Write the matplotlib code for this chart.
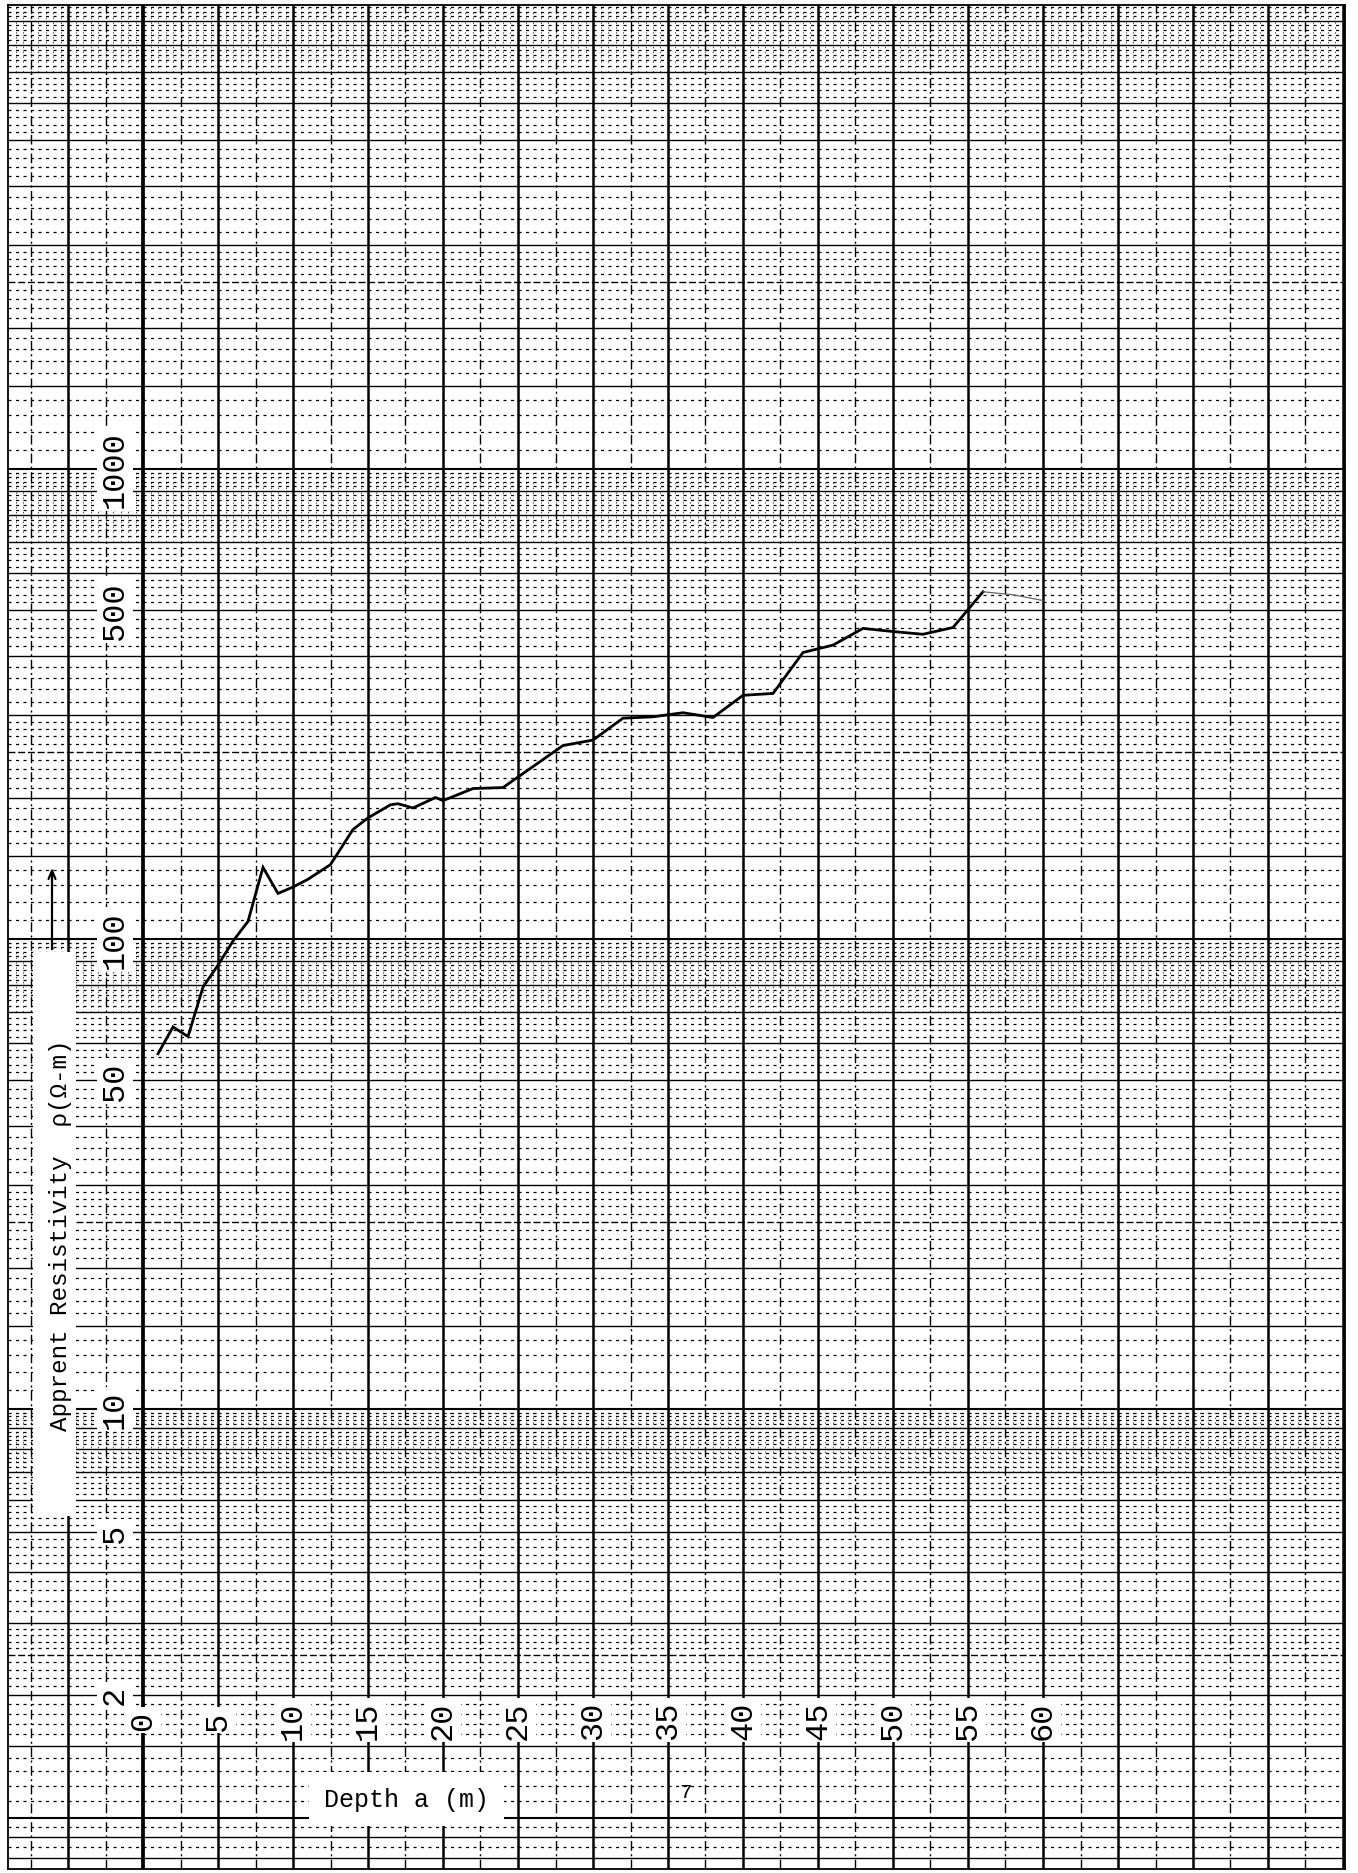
import numpy as np
import matplotlib
matplotlib.use("Agg")
import matplotlib.pyplot as plt
from matplotlib.patches import Rectangle

# ---- values ----
depth = [1, 2, 3, 4, 5, 6, 7, 8, 9, 10, 11, 12.5, 14, 15, 16.5, 17, 18, 19.5, 20,
         22, 24, 28, 30, 32, 34, 36, 38, 40, 42, 44, 46, 48, 50, 52, 54, 56]
rho = [57, 65, 62, 79, 88, 99, 109, 142, 125, 129, 134, 144, 171, 181, 193, 194, 190, 200, 197,
       209, 210, 258, 265, 295, 297, 303, 296, 330, 333, 407, 422, 458, 451, 445, 460, 548]
# last, faint stretch of the pen line
tail_depth = [56, 58, 60]
tail_rho = [548, 540, 525]

depth_ticks = [0, 5, 10, 15, 20, 25, 30, 35, 40, 45, 50, 55, 60]
rho_ticks = [2, 5, 10, 50, 100, 500, 1000]

# ---- page geometry (pixels) ----
W, H = 1358, 1874
X0_PX, PX_PER_M = 143, 15.0          # depth 0 line, 5 m = 75 px
Y_BASE, PX_PER_DEC = 1880, 470.0     # scaled rho -> pixel row
LOW_CYCLE = 0.87                     # the scanned sheet is squeezed below 10
MONO = ['Liberation Mono', 'DejaVu Sans Mono']
plt.rcParams['lines.scale_dashes'] = False


def fx(px):
    return px / W


def fy(py):
    return 1 - py / H


def fwd(v):
    lv = np.log10(np.clip(np.asarray(v, dtype=float), 1e-12, None))
    return np.where(lv >= 1, lv, 1 - (1 - lv) * LOW_CYCLE)


def inv(t):
    t = np.asarray(t, dtype=float)
    return np.where(t >= 1, 10 ** t, 10 ** (1 - (1 - t) / LOW_CYCLE))


fig = plt.figure(figsize=(W / 100, H / 100), dpi=100)
left, right, top, bottom = 8, 1345, 6, 1870
ax = fig.add_axes([fx(left), fy(bottom), (right - left) / W, (bottom - top) / H])
ax.set_yscale('function', functions=(fwd, inv))
ax.set_xlim((left - X0_PX) / PX_PER_M, (right - X0_PX) / PX_PER_M)
ax.set_ylim(float(inv((Y_BASE - bottom) / PX_PER_DEC)), float(inv((Y_BASE - top) / PX_PER_DEC)))
ax.set_xticks([])
ax.set_yticks([])
ax.set_yticks([], minor=True)
ax.tick_params(which='both', length=0, labelleft=False, labelbottom=False)
for sp in ax.spines.values():
    sp.set_linewidth(1.3)

x_lo, x_hi = ax.get_xlim()
y_lo, y_hi = ax.get_ylim()

# ---- graph paper: vertical rulings ----
for x in np.arange(-5, x_hi, 5):
    ax.axvline(x, color='k', lw=2.7 if x == 0 else 1.8, zorder=2)
for x in np.arange(-7.5, x_hi, 5):
    ax.axvline(x, color='k', lw=1.0, ls=(0, (7, 2.5, 1.5, 2.5)), zorder=2)

# ---- graph paper: horizontal (log) rulings ----
decades = [1, 10, 100, 1000]
major_h, mid_h, half_h, fine_h, band_lo = [], [], [], [], []
for d in decades:
    major_h.append(d)
    for m in [1.5, 2, 3, 4, 5, 6, 7, 8, 9]:
        mid_h.append(m * d)
    half_h.append(2.5 * d)
    for m in np.round(np.arange(1.1, 2.95, 0.1), 1):
        if m not in (1.5, 2.0, 2.5):
            fine_h.append(m * d)
    for m in np.round(np.arange(3.2, 9.9, 0.2), 1):
        if abs(m - round(m)) > 1e-6:
            fine_h.append(m * d)
    band_lo.append(7 * d)
major_h.append(10000)
# the strip of sheet below 1 keeps a plain, open ruling
mid_h += [0.8, 0.9]
fine_h += [0.75, 0.85, 0.95]


def inside(vals):
    return [v for v in vals if y_lo <= v <= y_hi]


ax.hlines(inside(major_h), x_lo, x_hi, color='k', lw=1.5, zorder=2)
ax.hlines(inside(mid_h), x_lo, x_hi, color='k', lw=1.0, zorder=2)
ax.hlines(inside(half_h), x_lo, x_hi, color='k', lw=1.0, linestyles=[(0, (5, 2))], zorder=2)
ax.hlines(inside(fine_h), x_lo, x_hi, color='k', lw=0.9, linestyles=[(0, (2.2, 3.2))], zorder=1)
# denser ruling in the top part of each cycle
for lo in band_lo:
    ax.vlines(np.arange(-9, x_hi, 0.5), max(lo, y_lo), min(lo * 10 / 7, y_hi), color='k',
              lw=0.5, linestyles=[(0, (1, 2.5))], zorder=1)

# ---- the sounding curve ----
ax.plot(depth, rho, color='k', lw=2.0, zorder=5, solid_joinstyle='miter')
ax.plot(tail_depth, tail_rho, color='0.4', lw=0.9, zorder=5)

# ---- hand-lettered scale numbers ----
box = dict(boxstyle='square,pad=0.1', fc='white', ec='none')
for v in rho_ticks:
    ax.text((115 - X0_PX) / PX_PER_M, v, str(v), rotation=90, ha='center', va='center',
            fontsize=23, family=MONO, bbox=box, zorder=6)
xlab_frac = (bottom - 1721) / (bottom - top)
for d in depth_ticks:
    ax.text(d, xlab_frac, str(d), rotation=90, ha='center', va='center',
            transform=ax.get_xaxis_transform(), fontsize=23, family=MONO, bbox=box, zorder=6)

# ---- axis captions ----
fig.patches.append(Rectangle((fx(33), fy(1517)), 43 / W, (1517 - 953) / H,
                             transform=fig.transFigure, fc='white', ec='none', zorder=2))
fig.text(fx(60), fy(1235), 'Apprent Resistivity  \u03c1(\u03a9-m)', rotation=90,
         ha='center', va='center', fontsize=17.5, family=MONO, zorder=3)
ax.annotate('', xy=(52, H - 866), xytext=(52, H - 953), xycoords='figure pixels',
            textcoords='figure pixels',
            arrowprops=dict(arrowstyle='->,head_length=0.6,head_width=0.25', lw=1.6, color='k'),
            zorder=7)

fig.text(fx(406), fy(1800), 'Depth a (m)', ha='center', va='center', fontsize=18,
         family=MONO, bbox=dict(boxstyle='square,pad=0.6', fc='white', ec='none'), zorder=3)
fig.text(fx(686), fy(1793), '7', ha='center', va='center', fontsize=15, family=MONO, zorder=3)

fig.savefig('out.png', dpi=100, facecolor='white')
